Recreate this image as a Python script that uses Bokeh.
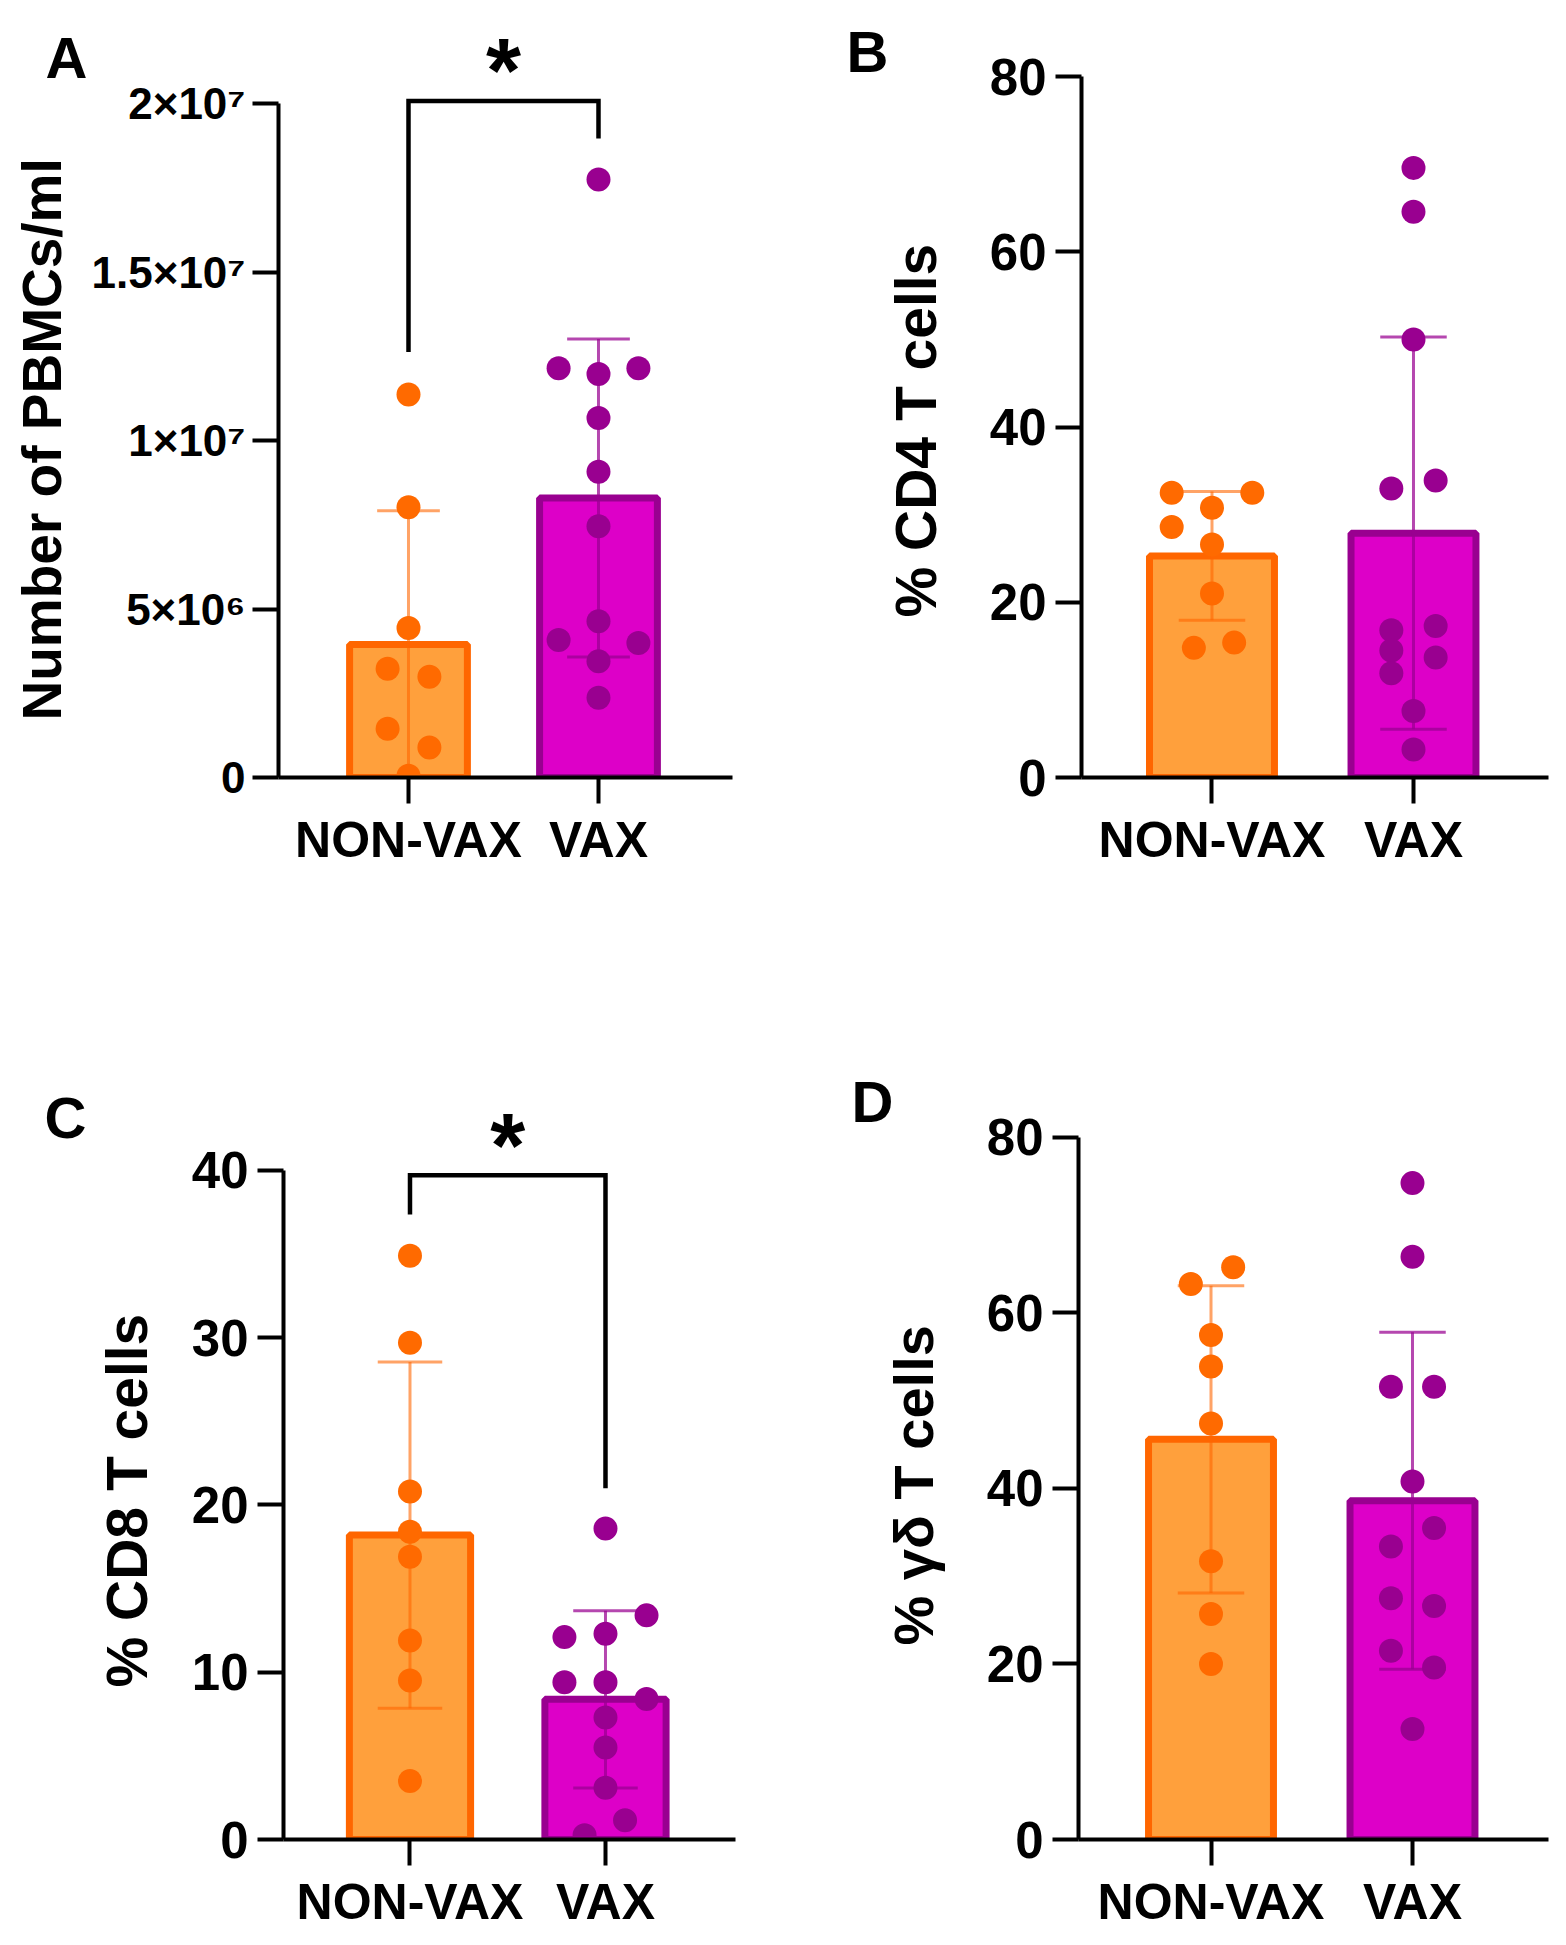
import math
from bokeh.plotting import figure
from bokeh.models import Range1d, FixedTicker, Label, ColumnDataSource
from bokeh.core.properties import value
from bokeh.layouts import row, column
from bokeh.embed import file_html
from bokeh.resources import INLINE

categories = ["NON-VAX", "VAX"]

# ---------------- Panel A: Number of PBMCs/ml ----------------
a_nonvax = [11.37e6, 8.02e6, 4.44e6, 3.23e6, 2.99e6, 1.45e6, 0.89e6, 0.05e6]
a_nonvax_dx = [0, 0, 0, -0.11, 0.11, -0.11, 0.11, 0]
a_vax = [17.75e6, 12.15e6, 11.98e6, 12.15e6, 10.67e6, 9.08e6, 7.46e6,
         4.64e6, 4.08e6, 3.99e6, 3.45e6, 2.37e6]
a_vax_dx = [0, -0.21, 0, 0.21, 0, 0, 0, 0, -0.21, 0.21, 0, 0]
a_mean = [3.95e6, 8.3e6]
a_sd = [3.97e6, 4.72e6]
a_ticks = [0.0, 5e6, 1e7, 1.5e7, 2e7]
a_tick_labels = ["0", "5×10⁶", "1×10⁷", "1.5×10⁷", "2×10⁷"]
a_bracket = [12.63e6, 20.08e6, 18.97e6]   # left leg end, top, right leg end

# ---------------- Panel B: % CD4 T cells ----------------
b_nonvax = [32.5, 32.5, 30.8, 28.6, 26.6, 21.0, 14.8, 15.4]
b_nonvax_dx = [-0.2, 0.2, 0, -0.2, 0, 0, -0.09, 0.11]
b_vax = [69.6, 64.6, 50.0, 33.0, 33.9, 16.8, 17.3, 14.5, 13.7, 11.9, 7.6, 3.2]
b_vax_dx = [0, 0, 0, -0.11, 0.11, -0.11, 0.11, -0.11, 0.11, -0.11, 0, 0]
b_mean = [25.3, 27.9]
b_sd = [7.35, 22.4]
b_ticks = [0.0, 20.0, 40.0, 60.0, 80.0]
b_tick_labels = ["0", "20", "40", "60", "80"]

# ---------------- Panel C: % CD8 T cells ----------------
c_nonvax = [34.9, 29.7, 20.8, 18.4, 16.9, 11.9, 9.5, 3.5]
c_nonvax_dx = [0, 0, 0, 0, 0, 0, 0, 0]
c_vax = [18.6, 13.4, 12.1, 12.3, 9.4, 9.4, 8.4, 7.3, 5.5, 3.1, 1.15, 0.25]
c_vax_dx = [0, 0.21, -0.21, 0, -0.21, 0, 0.21, 0, 0, 0, 0.1, -0.107]
c_mean = [18.2, 8.38]
c_sd = [10.35, 5.3]
c_ticks = [0.0, 10.0, 20.0, 30.0, 40.0]
c_tick_labels = ["0", "10", "20", "30", "40"]
c_bracket = [37.37, 39.71, 21.0]

# ---------------- Panel D: % γδ T cells ----------------
d_nonvax = [63.3, 65.2, 57.5, 53.9, 47.4, 31.7, 25.7, 20.0]
d_nonvax_dx = [-0.1, 0.11, 0, 0, 0, 0, 0, 0]
d_vax = [74.8, 66.4, 51.6, 51.6, 40.8, 35.5, 33.4, 27.5, 26.6, 21.5, 19.6, 12.6]
d_vax_dx = [0, 0, -0.107, 0.107, 0, 0.107, -0.107, -0.107, 0.107, -0.107, 0.107, 0]
d_mean = [45.6, 38.6]
d_sd = [17.5, 19.2]
d_ticks = [0.0, 20.0, 40.0, 60.0, 80.0]
d_tick_labels = ["0", "20", "40", "60", "80"]

FONT = "Liberation Sans"
BAR_FILL = ["#FFA03C", "#DD00C8"]
BAR_LINE = ["#FF6600", "#990090"]
PT_COLOR = ["#FF6A00", "#990090"]
ERR_COLOR = ["#FF6600", "#990090"]
ERR_ALPHA = [0.6, 0.72]


def make_label_fig(letter, ylabel, geo):
    """Narrow text-only strip left of a panel: panel letter + y-axis title.
    Its frame is aligned with the neighbouring panel's frame (same bottom border),
    and its data coordinates are page pixels (y counted upwards from the strip bottom)."""
    w, H, ox, oy, mbb = geo["lw"], geo["H"], geo["lox"], geo["oy"], geo["mbb"]
    p = figure(width=w, height=H, title=None, x_range=Range1d(0, w),
               y_range=Range1d(mbb, H), x_axis_location=None, y_axis_location=None,
               output_backend="svg", toolbar_location=None,
               min_border_left=0, min_border_right=0, min_border_top=0,
               min_border_bottom=mbb)
    p.outline_line_color = None
    p.xgrid.visible = False
    p.ygrid.visible = False
    lx, ly = geo["letter"]
    p.text(x=[lx - ox], y=[H - (ly - oy)], text=[letter],
           text_font=value(FONT), text_font_style="bold",
           text_font_size=value("58px"), text_align="left",
           text_baseline="alphabetic", text_color="black")
    # rotated title, anchored at its start (bottom end), reading upwards
    tx, ty = geo["ylab"]
    p.text(x=[tx - ox], y=[H - (ty - oy)], text=[ylabel], angle=math.pi / 2,
           text_font=value(FONT), text_font_style="bold",
           text_font_size=value(geo["ylab_fs"]), text_align="left",
           text_baseline="alphabetic", text_color="black")
    return p


def make_panel(nonvax, nonvax_dx, vax, vax_dx, mean, sd,
               ticks, tick_labels, bracket, geo):
    W, H = geo["W"], geo["H"]
    p = figure(width=W, height=H, title=None,
               x_range=Range1d(geo["x0"], geo["x1"]),
               y_range=Range1d(0, geo["y1"]),
               output_backend="svg", toolbar_location=None,
               min_border_left=geo["mbl"], min_border_right=geo["mbr"],
               min_border_top=0, min_border_bottom=geo["mbb"])
    p.outline_line_color = None
    p.xgrid.visible = False
    p.ygrid.visible = False
    p.background_fill_color = "white"
    p.border_fill_color = "white"

    fh = H - geo["mbb"]
    FB = geo["oy"] + fh

    def dy_(Y):
        return (FB - Y) * geo["y1"] / fh

    xs = [1.0, 2.0]
    src = ColumnDataSource(dict(x=xs, top=mean, fill=BAR_FILL, line=BAR_LINE,
                                cat=categories))
    p.vbar(x="x", top="top", bottom=0, width=0.62, source=src,
           fill_color="fill", line_color="line", line_width=7)

    cap = 0.165
    for i in range(2):
        lo = max(0.0, mean[i] - sd[i])
        hi = mean[i] + sd[i]
        p.segment(x0=[xs[i], xs[i] - cap, xs[i] - cap],
                  y0=[lo, hi, lo],
                  x1=[xs[i], xs[i] + cap, xs[i] + cap],
                  y1=[hi, hi, lo],
                  line_color=ERR_COLOR[i], line_alpha=ERR_ALPHA[i], line_width=3)

    p.scatter(x=[1 + d for d in nonvax_dx], y=nonvax, size=24,
              fill_color=PT_COLOR[0], line_color=None)
    p.scatter(x=[2 + d for d in vax_dx], y=vax, size=24,
              fill_color=PT_COLOR[1], line_color=None)

    if bracket is not None:
        p.line(x=[1, 1, 2, 2], y=[bracket[0], bracket[1], bracket[1], bracket[2]],
               line_color="black", line_width=4.5, line_join="miter")
        p.add_layout(Label(x=1.5, y=dy_(geo["star_base"]),
                           text="*", text_font=FONT, text_font_style="bold",
                           text_font_size="90px", text_align="center",
                           text_baseline="alphabetic", text_color="black"))

    ya = p.yaxis[0]
    ya.ticker = FixedTicker(ticks=ticks)
    ya.major_label_overrides = {t: l for t, l in zip(ticks, tick_labels)}
    ya.bounds = (0, ticks[-1])
    xa = p.xaxis[0]
    xa.ticker = FixedTicker(ticks=xs)
    xa.major_label_overrides = {x: c for x, c in zip(xs, categories)}
    for ax in (xa, ya):
        ax.axis_line_color = "black"
        ax.axis_line_width = 4
        ax.major_tick_line_color = "black"
        ax.major_tick_line_width = 4
        ax.major_tick_out = 26
        ax.major_tick_in = 0
        ax.minor_tick_line_color = None
        ax.major_label_text_font = FONT
        ax.major_label_text_font_style = "bold"
        ax.major_label_text_color = "black"
    ya.major_label_text_font_size = geo["ytick_fs"]
    ya.major_label_standoff = geo["ystand"]
    xa.major_label_text_font_size = "50px"
    xa.major_label_standoff = 8
    return p


# geometry in page (image) pixels; strip + panel widths add up to 783 per column
# ylab = (x of text baseline, y of text start)
geoA = dict(H=990, oy=0, lox=0, lw=88, W=695, mbl=190, mbr=51, mbb=213,
            x0=0.3158, x1=2.7053, y1=23.067e6, star_base=70,
            letter=(45, 56.5), ylab=(41, 720), ylab_fs="55px",
            ytick_fs="44px", ystand=7)
geoB = dict(H=990, oy=0, lox=783, lw=167, W=616, mbl=131, mbr=18, mbb=213,
            x0=0.3524, x1=2.67, y1=88.71, star_base=0,
            letter=(846, 51), ylab=(915, 617), ylab_fs="57px",
            ytick_fs="51px", ystand=9)
geoC = dict(H=955, oy=990, lox=0, lw=165, W=618, mbl=118, mbr=48, mbb=106,
            x0=0.353, x1=2.665, y1=50.76, star_base=1145,
            letter=(44, 1117), ylab=(126, 1687), ylab_fs="57px",
            ytick_fs="51px", ystand=9)
geoD = dict(H=955, oy=990, lox=783, lw=167, W=616, mbl=128, mbr=18, mbb=106,
            x0=0.3424, x1=2.675, y1=96.75, star_base=0,
            letter=(851, 1101), ylab=(913, 1645), ylab_fs="56px",
            ytick_fs="51px", ystand=9)

lA = make_label_fig("A", "Number of PBMCs/ml", geoA)
pA = make_panel(a_nonvax, a_nonvax_dx, a_vax, a_vax_dx, a_mean, a_sd,
                a_ticks, a_tick_labels, a_bracket, geoA)
lB = make_label_fig("B", "% CD4 T cells", geoB)
pB = make_panel(b_nonvax, b_nonvax_dx, b_vax, b_vax_dx, b_mean, b_sd,
                b_ticks, b_tick_labels, None, geoB)
lC = make_label_fig("C", "% CD8 T cells", geoC)
pC = make_panel(c_nonvax, c_nonvax_dx, c_vax, c_vax_dx, c_mean, c_sd,
                c_ticks, c_tick_labels, c_bracket, geoC)
lD = make_label_fig("D", "% γδ T cells", geoD)
pD = make_panel(d_nonvax, d_nonvax_dx, d_vax, d_vax_dx, d_mean, d_sd,
                d_ticks, d_tick_labels, None, geoD)

layout = column(row(lA, pA, lB, pB), row(lC, pC, lD, pD))
open("out.html", "w").write(file_html(layout, INLINE))
